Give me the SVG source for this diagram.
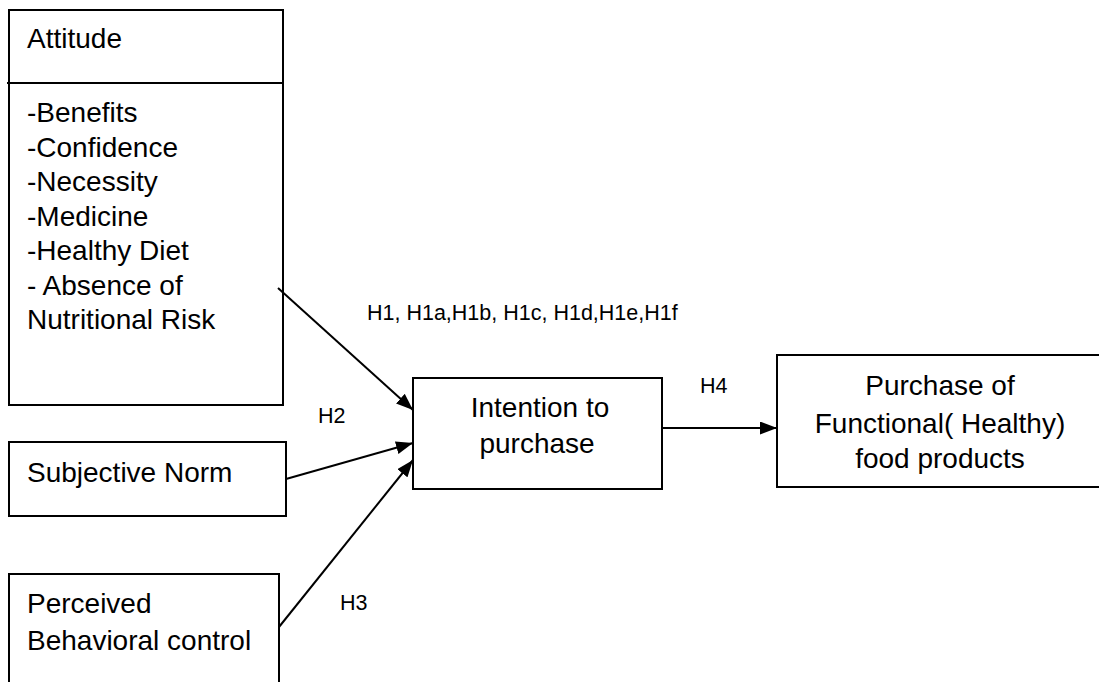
<svg xmlns="http://www.w3.org/2000/svg" width="1099" height="682" viewBox="0 0 1099 682">
<style>
.box{fill:#fff;stroke:#000;stroke-width:2}
.t{font-family:"Liberation Sans",Arial,sans-serif;font-size:28px;fill:#000}
.c{text-anchor:middle}
.lbl{font-family:"Liberation Sans",Arial,sans-serif;font-size:21.5px;fill:#000}
.conn{stroke:#000;stroke-width:2;fill:none;marker-end:url(#ah)}
</style>
<defs>
<marker id="ah" viewBox="0 0 17 13" refX="17" refY="6.5" markerWidth="17" markerHeight="13" markerUnits="userSpaceOnUse" orient="auto">
<path d="M0,0 L17,6.5 L0,13 Z" fill="#000"/>
</marker>
</defs>
<rect width="1099" height="682" fill="#fff"/>
<g id="attitude">
<rect class="box" x="9" y="10" width="274" height="395"/>
<line x1="7" y1="83" x2="284" y2="83" stroke="#000" stroke-width="2"/>
<text class="t" x="27" y="48">Attitude</text>
<text class="t" x="27" y="122">-Benefits</text>
<text class="t" x="27" y="157">-Confidence</text>
<text class="t" x="27" y="191">-Necessity</text>
<text class="t" x="27" y="226">-Medicine</text>
<text class="t" x="27" y="260">-Healthy Diet</text>
<text class="t" x="27" y="295">- Absence of</text>
<text class="t" x="27" y="329">Nutritional Risk</text>
</g>
<g id="subjective">
<rect class="box" x="9" y="442" width="277" height="74"/>
<text class="t" x="27" y="482">Subjective Norm</text>
</g>
<g id="perceived">
<rect class="box" x="9" y="574" width="270" height="120"/>
<text class="t" x="27" y="613">Perceived</text>
<text class="t" x="27" y="650">Behavioral control</text>
</g>
<g id="intention">
<rect class="box" x="413" y="378" width="249" height="111"/>
<text class="t c" x="540" y="417">Intention to</text>
<text class="t c" x="537" y="453">purchase</text>
</g>
<g id="purchase">
<rect class="box" x="777" y="355" width="340" height="132"/>
<text class="t c" x="940" y="395">Purchase of</text>
<text class="t c" x="940" y="433">Functional( Healthy)</text>
<text class="t c" x="940" y="468">food products</text>
</g>
<g id="connectors">
<line class="conn" x1="278" y1="288" x2="413" y2="410"/>
<line class="conn" x1="286" y1="479" x2="413" y2="443"/>
<line class="conn" x1="279" y1="627" x2="413" y2="460"/>
<line class="conn" x1="662" y1="428" x2="777" y2="428"/>
</g>
<g id="labels">
<text class="lbl" x="367" y="320">H1, H1a,H1b, H1c, H1d,H1e,H1f</text>
<text class="lbl" x="318" y="423">H2</text>
<text class="lbl" x="340" y="610">H3</text>
<text class="lbl" x="700" y="393">H4</text>
</g>
</svg>
